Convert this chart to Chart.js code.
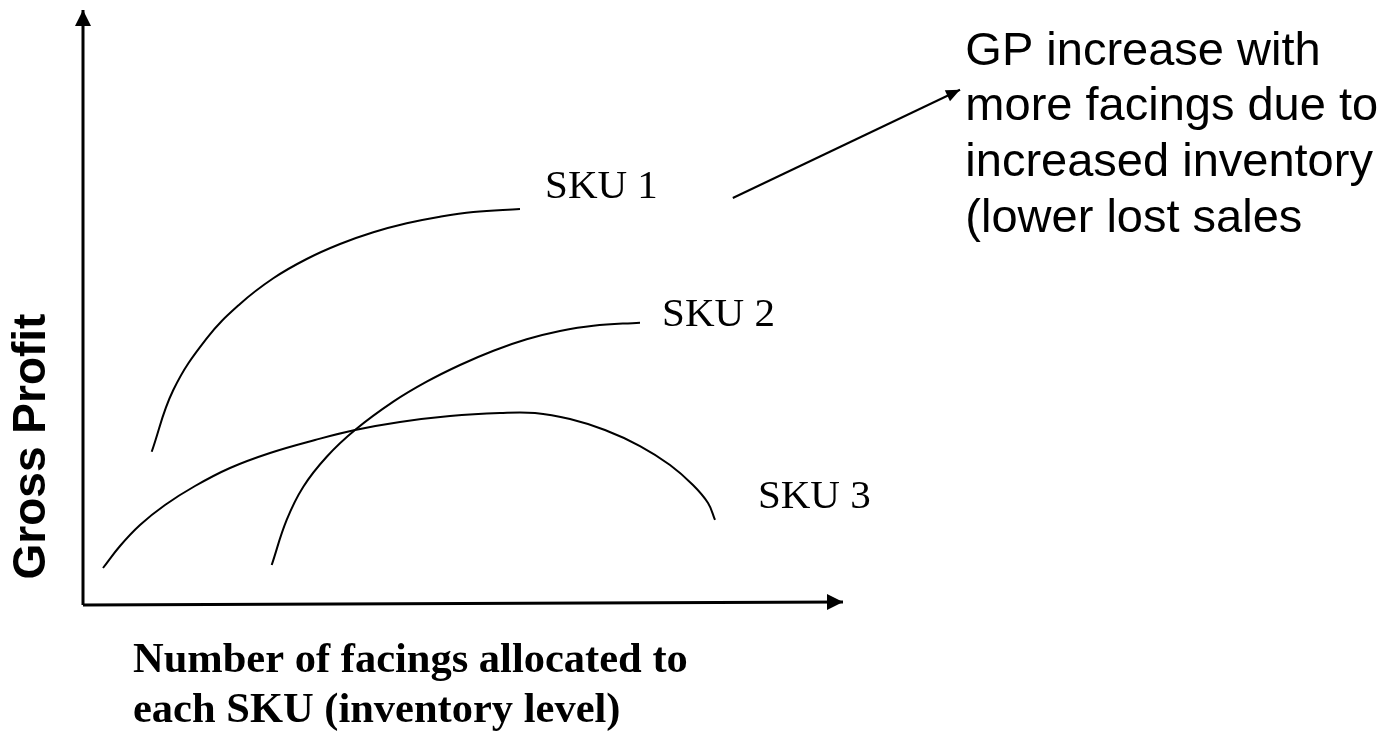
<!DOCTYPE html>
<html>
<head>
<meta charset="utf-8">
<script src="https://cdn.jsdelivr.net/npm/chart.js@4/dist/chart.umd.min.js"></script>
<style>
  html, body { margin: 0; padding: 0; background: #fff; }
  #wrap { width: 1390px; height: 733px; position: relative; }
</style>
</head>
<body>
<div id="wrap"><canvas id="c"></canvas></div>
<script>
// Facings (x) against gross profit (y), in arbitrary units 0..100
const sku1X = [9.04, 11.88, 16.28, 20.66, 25.04, 29.43, 33.82, 38.20, 42.59, 46.97, 51.36, 57.50];
const sku1Y = [25.76, 36.13, 44.82, 50.59, 54.91, 58.15, 60.67, 62.64, 64.15, 65.26, 66.05, 66.55];

const sku2X = [24.83, 26.80, 28.99, 32.07, 35.79, 40.83, 45.22, 49.61, 54.01, 58.38, 62.76, 67.14, 73.29];
const sku2Y = [6.72, 14.29, 19.88, 24.92, 29.41, 34.17, 37.53, 40.34, 42.74, 44.66, 46.05, 46.94, 47.45];

const sku3X = [2.63, 4.87, 7.50, 10.79, 14.74, 19.34, 24.61, 30.53, 35.79, 41.71, 48.29, 54.87, 59.47, 64.08, 68.68, 73.29, 77.24, 80.26, 82.24, 83.16];
const sku3Y = [6.22, 9.92, 13.45, 16.81, 20.00, 23.03, 25.55, 27.73, 29.41, 30.76, 31.76, 32.27, 32.27, 31.26, 29.41, 26.72, 23.53, 20.17, 17.14, 14.29];

// Series names and where their labels sit (x, baseline y)
const skuNames = ['SKU 1', 'SKU 2', 'SKU 3'];
const skuLabelX = [60.8, 76.2, 88.8];
const skuLabelY = [68.4, 46.9, 16.3];

// Axis lines (drawn with arrowheads at their far end)
const xAxisX = [0, 100];
const xAxisY = [0, 0.5];
const yAxisX = [0, 0];
const yAxisY = [0, 100];

// Callout pointer and its note
const calloutX = [85.5, 115.4];
const calloutY = [68.4, 86.6];
const noteLines = ['GP increase with', 'more facings due to', 'increased inventory', '(lower lost sales'];
const noteX = 116.1;
const noteTopY = 90.8;
const noteStep = 9.36;

const xTitleLines = ['Number of facings allocated to', 'each SKU (inventory level)'];
const yTitle = 'Gross Profit';

const pts = (xs, ys) => xs.map((x, i) => ({ x, y: ys[i] }));

function lineSet(data, width, extra) {
  return Object.assign({
    data, borderColor: '#000', borderWidth: width, pointRadius: 0,
    fill: false, showLine: true, tension: 0
  }, extra || {});
}

// Arrowheads at the last point of datasets flagged with "arrow"
const arrowHeads = {
  id: 'arrowHeads',
  afterDatasetsDraw(chart) {
    const ctx = chart.ctx;
    chart.data.datasets.forEach((ds, i) => {
      if (!ds.arrow) return;
      const meta = chart.getDatasetMeta(i).data;
      const a = meta[meta.length - 2], b = meta[meta.length - 1];
      const ang = Math.atan2(b.y - a.y, b.x - a.x);
      const L = ds.arrow.len, W = ds.arrow.half;
      ctx.save();
      ctx.translate(b.x, b.y);
      ctx.rotate(ang);
      ctx.beginPath();
      ctx.moveTo(0, 0);
      ctx.lineTo(-L, -W);
      ctx.lineTo(-L, W);
      ctx.closePath();
      ctx.fillStyle = '#000';
      ctx.fill();
      ctx.restore();
    });
  }
};

// Text placed through the scales, plus axis titles
const textLayer = {
  id: 'textLayer',
  afterDraw(chart) {
    const ctx = chart.ctx;
    const xs = chart.scales.x, ys = chart.scales.y;
    const area = chart.chartArea;
    ctx.save();
    ctx.fillStyle = '#000';
    ctx.textAlign = 'left';
    ctx.textBaseline = 'alphabetic';

    ctx.font = '41px "Liberation Serif", "Times New Roman", serif';
    skuNames.forEach((n, i) => {
      ctx.fillText(n, xs.getPixelForValue(skuLabelX[i]), ys.getPixelForValue(skuLabelY[i]));
    });

    ctx.font = '47px "Liberation Sans", Arial, sans-serif';
    noteLines.forEach((t, i) => {
      ctx.fillText(t, xs.getPixelForValue(noteX), ys.getPixelForValue(noteTopY - i * noteStep));
    });

    ctx.font = 'bold 42.5px "Liberation Serif", "Times New Roman", serif';
    xTitleLines.forEach((t, i) => {
      ctx.fillText(t, area.left + 50, area.bottom + 67 + i * 50);
    });

    ctx.font = 'bold 46px "Liberation Sans", Arial, sans-serif';
    ctx.translate(area.left - 38, (area.top + area.bottom) / 2 + 139);
    ctx.rotate(-Math.PI / 2);
    ctx.textAlign = 'center';
    ctx.fillText(yTitle, 0, 0);
    ctx.restore();
  }
};

new Chart(document.getElementById('c'), {
  type: 'scatter',
  data: {
    datasets: [
      lineSet(pts(sku1X, sku1Y), 2, { label: skuNames[0], tension: 0.4 }),
      lineSet(pts(sku2X, sku2Y), 2, { label: skuNames[1], tension: 0.4 }),
      lineSet(pts(sku3X, sku3Y), 2, { label: skuNames[2], tension: 0.4 }),
      lineSet(pts(xAxisX, xAxisY), 3, { label: 'x-axis', arrow: { len: 16, half: 8 } }),
      lineSet(pts(yAxisX, yAxisY), 3, { label: 'y-axis', arrow: { len: 16, half: 8 } }),
      lineSet(pts(calloutX, calloutY), 2, { label: 'callout', arrow: { len: 14, half: 6 } })
    ]
  },
  options: {
    responsive: true,
    maintainAspectRatio: false,
    animation: false,
    layout: { padding: { left: 83, right: 547, top: 10, bottom: 128 } },
    scales: {
      x: { type: 'linear', min: 0, max: 100, display: false },
      y: { type: 'linear', min: 0, max: 100, display: false }
    },
    plugins: { legend: { display: false }, tooltip: { enabled: false } },
    elements: { line: { borderCapStyle: 'butt' } },
    clip: false
  },
  plugins: [arrowHeads, textLayer]
});
</script>
</body>
</html>
